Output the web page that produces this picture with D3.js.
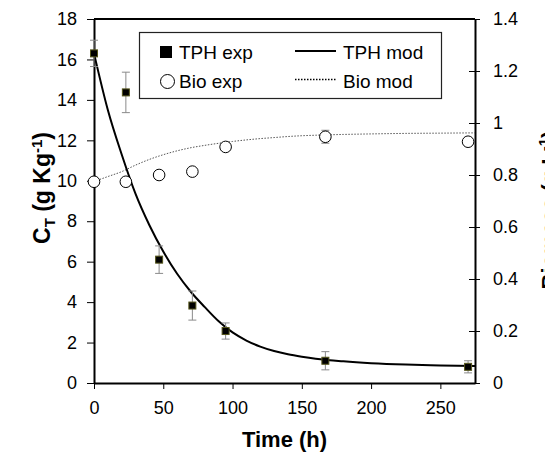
<!DOCTYPE html>
<html><head><meta charset="utf-8">
<script src="https://cdn.jsdelivr.net/npm/d3@7"></script>
<style>
body{margin:0;background:#fff;}
svg text{font-family:"Liberation Sans",Arial,sans-serif;}
</style></head>
<body><svg id="c" width="545" height="459"></svg>
<script>
// ---- data ----
const expTime   = [0, 23, 47, 71, 95, 167, 270];
const tphExp    = [16.3, 14.37, 6.1, 3.83, 2.57, 1.1, 0.8];
const tphErr    = [0.65, 1.0, 0.68, 0.72, 0.4, 0.45, 0.3];
const bioExp    = [0.774, 0.774, 0.80, 0.813, 0.908, 0.947, 0.928];
const bioErr    = [0, 0, 0, 0, 0, 0.025, 0];
const modTime   = [0, 10, 20, 30, 40, 50, 60, 70, 80, 90, 100, 110, 120, 130, 140, 150, 160, 180, 200, 225, 250, 275];
const tphMod    = [16.3, 13.5, 11.3, 9.35, 7.8, 6.5, 5.4, 4.5, 3.75, 3.05, 2.5, 2.1, 1.8, 1.58, 1.42, 1.3, 1.2, 1.07, 0.98, 0.91, 0.87, 0.84];
const bioMod    = [0.775, 0.794, 0.813, 0.838, 0.860, 0.878, 0.893, 0.905, 0.914, 0.922, 0.929, 0.935, 0.940, 0.944, 0.948, 0.951, 0.953, 0.956, 0.958, 0.960, 0.961, 0.962];
const xTicks    = [0, 50, 100, 150, 200, 250];
const yLeftTicks  = [0, 2, 4, 6, 8, 10, 12, 14, 16, 18];
const yRightTicks = [0, 0.2, 0.4, 0.6, 0.8, 1, 1.2, 1.4];
const legendLabels = ["TPH exp", "Bio exp", "TPH mod", "Bio mod"];

// ---- layout ----
const L = 94, R = 475, T = 19, B = 383;
const svg = d3.select("#c");
const x  = d3.scaleLinear().domain([0, 275]).range([L, R]);
const yL = d3.scaleLinear().domain([0, 18]).range([B, T]);
const yR = d3.scaleLinear().domain([0, 1.4]).range([B, T]);

// frame top line
svg.append("line").attr("x1", L).attr("x2", R).attr("y1", T).attr("y2", T)
  .attr("stroke", "#000").attr("stroke-width", 2);

// axes
const gx = svg.append("g").attr("transform", `translate(0,${B})`)
  .call(d3.axisBottom(x).tickValues(xTicks).tickFormat(d3.format("d")).tickSize(6).tickPadding(12).tickSizeOuter(0));
const gyl = svg.append("g").attr("transform", `translate(${L},0)`)
  .call(d3.axisLeft(yL).tickValues(yLeftTicks).tickFormat(d3.format("d")).tickSize(7).tickPadding(10).tickSizeOuter(0));
const gyr = svg.append("g").attr("transform", `translate(${R},0)`)
  .call(d3.axisRight(yR).tickValues(yRightTicks).tickFormat(d => d === 0 || d === 1 ? d3.format("d")(d) : d3.format(".1f")(d)).tickSize(5).tickPadding(13).tickSizeOuter(0));
gyr.selectAll(".tick line").attr("x1", -6);
[gx, gyl, gyr].forEach(g => {
  g.select(".domain").attr("stroke", "#000").attr("stroke-width", 2);
  g.selectAll(".tick line").attr("stroke", "#000").attr("stroke-width", 1);
  g.selectAll(".tick text").attr("font-size", 18).attr("fill", "#000")
   .attr("font-family", "'Liberation Sans',Arial,sans-serif");
});

// model lines
const tphLine = d3.line().x((d, i) => x(modTime[i])).y(d => yL(d)).curve(d3.curveMonotoneX);
const bioLine = d3.line().x((d, i) => x(modTime[i])).y(d => yR(d)).curve(d3.curveMonotoneX);
svg.append("path").attr("d", bioLine(bioMod)).attr("fill", "none")
  .attr("stroke", "#555").attr("stroke-width", 1).attr("stroke-dasharray", "1.5,1.5");
svg.append("path").attr("d", tphLine(tphMod)).attr("fill", "none")
  .attr("stroke", "#000").attr("stroke-width", 2);

// error bars
function errBars(vals, errs, y) {
  const g = svg.append("g").attr("stroke", "#8a8a8a").attr("stroke-width", 1);
  vals.forEach((v, i) => {
    if (!errs[i]) return;
    const cx = x(expTime[i]);
    g.append("line").attr("x1", cx).attr("x2", cx).attr("y1", y(v - errs[i])).attr("y2", y(v + errs[i]));
    g.append("line").attr("x1", cx - 4).attr("x2", cx + 4).attr("y1", y(v - errs[i])).attr("y2", y(v - errs[i]));
    g.append("line").attr("x1", cx - 4).attr("x2", cx + 4).attr("y1", y(v + errs[i])).attr("y2", y(v + errs[i]));
  });
}
errBars(tphExp, tphErr, yL);
errBars(bioExp, bioErr, yR);

// bio exp circles
svg.append("g").selectAll("circle").data(bioExp).join("circle")
  .attr("cx", (d, i) => x(expTime[i])).attr("cy", d => yR(d)).attr("r", 5.8)
  .attr("fill", "#fff").attr("stroke", "#000").attr("stroke-width", 1);
// tph exp squares
svg.append("g").selectAll("rect").data(tphExp).join("rect")
  .attr("x", (d, i) => x(expTime[i]) - 3.5).attr("y", d => yL(d) - 3.5)
  .attr("width", 7).attr("height", 7).attr("fill", "#000")
  .attr("stroke", "#55551a").attr("stroke-width", 1);

// legend
const lg = svg.append("g");
lg.append("rect").attr("x", 139.5).attr("y", 32.5).attr("width", 302).attr("height", 66)
  .attr("fill", "#fff").attr("stroke", "#222").attr("stroke-width", 1.2);
const lf = "'Noto Sans','Open Sans',sans-serif";
lg.append("rect").attr("x", 160).attr("y", 46).attr("width", 12).attr("height", 12).attr("fill", "#000");
lg.append("circle").attr("cx", 167.5).attr("cy", 81.5).attr("r", 7).attr("fill", "#fff").attr("stroke", "#000").attr("stroke-width", 1);
lg.append("line").attr("x1", 295).attr("x2", 336).attr("y1", 51).attr("y2", 51).attr("stroke", "#000").attr("stroke-width", 2.2);
lg.append("line").attr("x1", 295).attr("x2", 336).attr("y1", 79.5).attr("y2", 79.5).attr("stroke", "#000").attr("stroke-width", 1.3).attr("stroke-dasharray", "1.5,1.5");
[[179, 59, 0], [179, 88, 1], [343, 59, 2], [343, 88, 3]].forEach(([tx, ty, k]) => {
  lg.append("text").attr("x", tx).attr("y", ty).attr("font-size", 19).attr("font-family", lf)
    .attr("fill", "#000").text(legendLabels[k]);
});

// axis titles
svg.append("text").attr("x", (L + R) / 2).attr("y", 447).attr("text-anchor", "middle")
  .attr("font-size", 22).attr("font-weight", "bold").text("Time (h)");
const yt = svg.append("text").attr("transform", "translate(50,188) rotate(-90)")
  .attr("text-anchor", "middle").attr("font-size", 23).attr("font-weight", "bold");
yt.append("tspan").text("C");
yt.append("tspan").attr("font-size", 15).attr("dy", 5).text("T");
yt.append("tspan").attr("dy", -5).text(" (g Kg");
yt.append("tspan").attr("font-size", 15).attr("dy", -8).text("-1");
yt.append("tspan").attr("dy", 8).text(")");
const yr = svg.append("text").attr("transform", "translate(557,210) rotate(-90)")
  .attr("text-anchor", "middle").attr("font-size", 22).attr("font-weight", "bold");
yr.append("tspan").text("Biomass (g L");
yr.append("tspan").attr("font-size", 15).attr("dy", -8).text("-1");
yr.append("tspan").attr("dy", 8).text(")");
</script></body></html>
